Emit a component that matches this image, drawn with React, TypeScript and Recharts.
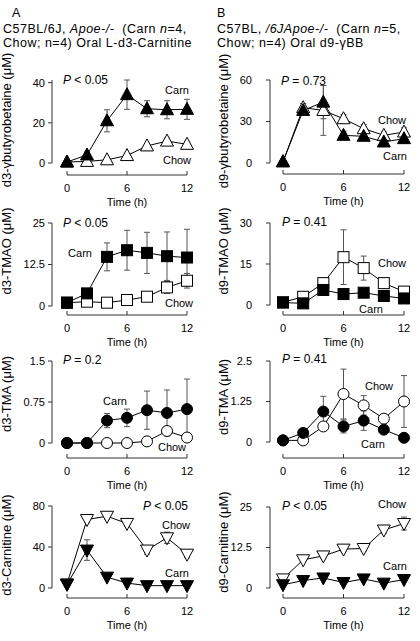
import React from 'react';
import { LineChart, Line, XAxis, YAxis, ErrorBar, Label } from 'recharts';

const FONT = '"Liberation Sans", Arial, Helvetica, sans-serif';

// ---------- data ----------
const times = [0, 2, 4, 6, 8, 10, 12];
const timeTicks = [0, 6, 12];

// Panel A: oral L-d3-carnitine
const a1CarnMean = [0.5, 4, 21, 34, 27, 26.5, 26.7];
const a1CarnErr = [0.3, 1.5, 5.5, 7.3, 4, 4.5, 5];
const a1ChowMean = [0.5, 0.8, 1.6, 3.7, 8.5, 10.9, 9.3];
const a1ChowErr = [0.2, 0.5, 0.5, 0.8, 1.2, 1.5, 1.5];
const a1Ticks = [0, 20, 40];

const a2CarnMean = [1.0, 3.8, 14.8, 16.8, 16, 15, 14.6];
const a2CarnErr = [0.3, 0.8, 4.2, 6, 6.2, 7.3, 8.5];
const a2ChowMean = [1.0, 1.3, 1.0, 1.8, 2.8, 5.6, 7.6];
const a2ChowErr = [0.2, 0.3, 0.3, 0.5, 0.8, 1.8, 2.2];
const a2Ticks = [0, 12.5, 25];

const a3CarnMean = [0, 0, 0.41, 0.46, 0.6, 0.55, 0.62];
const a3CarnErr = [0, 0, 0.13, 0.16, 0.35, 0.42, 0.55];
const a3ChowMean = [0, 0, 0, 0, 0.03, 0.22, 0.1];
const a3ChowErr = [0, 0, 0, 0, 0.02, 0.06, 0.04];
const a3Ticks = [0, 0.75, 1.5];

const a4CarnMean = [3.5, 37, 10.6, 4.8, 2.3, 2.3, 2.3];
const a4CarnErr = [1, 10, 2, 1, 0.5, 0.5, 0.5];
const a4ChowMean = [4, 66.8, 70, 63, 37, 49, 33];
const a4ChowErr = [1, 3, 3, 3, 4, 5.5, 3.5];
const a4Ticks = [0, 40, 80];

// Panel B: oral d9-gammaBB
const b1CarnMean = [1, 38, 44, 20, 19.3, 15.2, 17.6];
const b1CarnErr = [0.5, 3, 12, 3, 3, 2.5, 3];
const b1ChowMean = [0.8, 40, 38, 32, 24.8, 20, 22.4];
const b1ChowErr = [0.3, 3, 18, 3, 3, 2.5, 3];
const b1Ticks = [0, 30, 60];

const b2CarnMean = [0.9, 0.6, 5.5, 4, 4.5, 3.3, 2.4];
const b2CarnErr = [0.3, 0.3, 1, 0.8, 0.8, 0.8, 0.8];
const b2ChowMean = [1, 3, 8, 17.5, 13.5, 8, 4.9];
const b2ChowErr = [0.3, 0.8, 1, 10, 4.4, 1.8, 1];
const b2Ticks = [0, 15, 30];

const b3CarnMean = [0.05, 0.28, 0.94, 0.48, 0.66, 0.38, 0.13];
const b3CarnErr = [0.02, 0.05, 0.47, 0.2, 0.3, 0.1, 0.05];
const b3ChowMean = [0.05, 0.05, 0.48, 1.48, 1.13, 0.72, 1.25];
const b3ChowErr = [0.02, 0.05, 0.1, 0.77, 0.3, 0.08, 0.8];
const b3Ticks = [0, 1.25, 2.5];

const b4CarnMean = [1.0, 2.3, 3.1, 1.7, 2.8, 1.5, 2.6];
const b4CarnErr = [0.3, 0.3, 0.3, 0.3, 0.3, 0.3, 0.3];
const b4ChowMean = [2.8, 8.7, 9.9, 12, 12.2, 17.9, 19.9];
const b4ChowErr = [0.5, 0.8, 0.8, 0.8, 0.8, 1, 2];
const b4Ticks = [0, 12.5, 25];

// ---------- helpers ----------
type Shape = 'triUp' | 'triDown' | 'square' | 'circle';

const buildRows = (cm: number[], ce: number[], hm: number[], he: number[]) =>
  times.map((t, i) => ({ t, carn: cm[i], carnErr: ce[i], chow: hm[i], chowErr: he[i] }));

const makeDot = (shape: Shape, filled: boolean) => (props: any) => {
  const { cx, cy, index } = props;
  const key = `d-${index}`;
  if (cx == null || cy == null) return <g key={key} />;
  const fill = filled ? '#000' : '#fff';
  const common = { fill, stroke: '#000', strokeWidth: 1 };
  if (shape === 'circle') return <circle key={key} cx={cx} cy={cy} r={5.5} {...common} />;
  if (shape === 'square') return <rect key={key} x={cx - 5.5} y={cy - 5.5} width={11} height={11} {...common} />;
  if (shape === 'triUp')
    return <polygon key={key} points={`${cx},${cy - 7} ${cx + 6.5},${cy + 5} ${cx - 6.5},${cy + 5}`} {...common} />;
  return <polygon key={key} points={`${cx},${cy + 7} ${cx + 6.5},${cy - 5} ${cx - 6.5},${cy - 5}`} {...common} />;
};

interface PanelCfg {
  left: number;
  plotLeft: number;
  plotRight: number;
  yAxisX: number;
  tickRight: number;
  plotTop: number;
  plotBottom: number;
  axisY: number;
  domain: [number, number];
  ticks: number[];
  shape: Shape;
  rows: any[];
}

const colA = { left: 0, plotLeft: 67, plotRight: 187, yAxisX: 52, tickRight: 45 };
const colB = { left: 210, plotLeft: 283, plotRight: 404, yAxisX: 270, tickRight: 252 };

const panels: PanelCfg[] = [
  { ...colA, plotTop: 80, plotBottom: 163, axisY: 175, domain: [0, 40], ticks: a1Ticks, shape: 'triUp', rows: buildRows(a1CarnMean, a1CarnErr, a1ChowMean, a1ChowErr) },
  { ...colA, plotTop: 223, plotBottom: 306, axisY: 315, domain: [0, 25], ticks: a2Ticks, shape: 'square', rows: buildRows(a2CarnMean, a2CarnErr, a2ChowMean, a2ChowErr) },
  { ...colA, plotTop: 361, plotBottom: 443, axisY: 458, domain: [0, 1.5], ticks: a3Ticks, shape: 'circle', rows: buildRows(a3CarnMean, a3CarnErr, a3ChowMean, a3ChowErr) },
  { ...colA, plotTop: 506, plotBottom: 588, axisY: 598, domain: [0, 80], ticks: a4Ticks, shape: 'triDown', rows: buildRows(a4CarnMean, a4CarnErr, a4ChowMean, a4ChowErr) },
  { ...colB, plotTop: 80, plotBottom: 163, axisY: 174, domain: [0, 60], ticks: b1Ticks, shape: 'triUp', rows: buildRows(b1CarnMean, b1CarnErr, b1ChowMean, b1ChowErr) },
  { ...colB, plotTop: 223, plotBottom: 305, axisY: 315, domain: [0, 30], ticks: b2Ticks, shape: 'square', rows: buildRows(b2CarnMean, b2CarnErr, b2ChowMean, b2ChowErr) },
  { ...colB, plotTop: 361, plotBottom: 442, axisY: 458, domain: [0, 2.5], ticks: b3Ticks, shape: 'circle', rows: buildRows(b3CarnMean, b3CarnErr, b3ChowMean, b3ChowErr) },
  { ...colB, plotTop: 507, plotBottom: 588, axisY: 598, domain: [0, 25], ticks: b4Ticks, shape: 'triDown', rows: buildRows(b4CarnMean, b4CarnErr, b4ChowMean, b4ChowErr) },
];

// text annotations (layout)
const yLabels = [
  { text: 'd3-γbutyrobetaine (μM)', x: 6, y: 120 },
  { text: 'd3-TMAO (μM)', x: 6, y: 251 },
  { text: 'd3-TMA (μM)', x: 6, y: 394 },
  { text: 'd3-Carnitine (μM)', x: 6, y: 545 },
  { text: 'd9-γbutyrobetaine (μM)', x: 223, y: 121 },
  { text: 'd9-TMAO (μM)', x: 223, y: 251 },
  { text: 'd9-TMA (μM)', x: 223, y: 397 },
  { text: 'd9-Carnitine (μM)', x: 223, y: 542 },
];

const pValues = [
  { rest: ' < 0.05', x: 63, y: 84 },
  { rest: ' < 0.05', x: 63, y: 227 },
  { rest: ' = 0.2', x: 63, y: 364 },
  { rest: ' < 0.05', x: 143, y: 510 },
  { rest: ' = 0.73', x: 281, y: 85 },
  { rest: ' = 0.41', x: 282, y: 226 },
  { rest: ' = 0.41', x: 282, y: 363 },
  { rest: ' < 0.05', x: 282, y: 510 },
];

const seriesLabels = [
  { text: 'Carn', x: 177, y: 90 }, { text: 'Chow', x: 177, y: 160 },
  { text: 'Carn', x: 80, y: 253 }, { text: 'Chow', x: 179, y: 303 },
  { text: 'Carn', x: 115, y: 401 }, { text: 'Chow', x: 172, y: 447 },
  { text: 'Chow', x: 176, y: 525 }, { text: 'Carn', x: 177, y: 573 },
  { text: 'Chow', x: 392, y: 120 }, { text: 'Carn', x: 395, y: 156 },
  { text: 'Chow', x: 392, y: 263 }, { text: 'Carn', x: 371, y: 309 },
  { text: 'Chow', x: 379, y: 386 }, { text: 'Carn', x: 373, y: 444 },
  { text: 'Chow', x: 392, y: 504 }, { text: 'Carn', x: 395, y: 566 },
];

const TICK_FONT = { fontSize: 11, fill: '#000', fontFamily: FONT };
const TITLE_SIZE = 12.5;
const TITLE_STYLE: React.CSSProperties = { whiteSpace: 'pre', letterSpacing: 0.5 };

function Panel({ p }: { p: PanelCfg }) {
  const marginTop = 12;
  const xAxisH = 50;
  const chartTop = p.plotTop - marginTop;
  const plotH = p.plotBottom - p.plotTop;
  const height = marginTop + plotH + xAxisH;
  const yAxisW = p.plotLeft - p.left;
  const rightM = p.left + 210 - p.plotRight;
  const xShift = p.plotLeft - p.yAxisX;
  const yShift = p.axisY - p.plotBottom;
  return (
    <div style={{ position: 'absolute', left: p.left, top: chartTop, width: 210, height }}>
      <LineChart width={210} height={height} data={p.rows} margin={{ top: marginTop, right: rightM, bottom: 0, left: 0 }}>
        <XAxis
          dataKey="t"
          type="number"
          domain={[0, 12]}
          ticks={timeTicks}
          tickSize={4}
          tickMargin={yShift + 5}
          height={xAxisH}
          tick={TICK_FONT}
          axisLine={{ stroke: '#333', transform: `translate(0,${yShift})` }}
          tickLine={{ stroke: '#333', transform: `translate(0,${yShift - 4})` }}
        >
          <Label value="Time (h)" position="insideTop" offset={yShift + 23} style={{ fontSize: 11, fill: '#000', fontFamily: FONT }} />
        </XAxis>
        <YAxis
          type="number"
          domain={p.domain}
          ticks={p.ticks}
          width={yAxisW}
          tickSize={4}
          tickMargin={p.plotLeft - 4 - p.tickRight}
          tick={TICK_FONT}
          axisLine={{ stroke: '#333', transform: `translate(${-xShift},0)` }}
          tickLine={{ stroke: '#333', transform: `translate(${-xShift},0)` }}
        />
        <Line
          dataKey="chow"
          stroke="#000"
          strokeWidth={1}
          isAnimationActive={false}
          dot={makeDot(p.shape, false)}
          activeDot={false}
        >
          <ErrorBar dataKey="chowErr" width={3} stroke="#555" strokeWidth={1} />
        </Line>
        <Line
          dataKey="carn"
          stroke="#000"
          strokeWidth={1}
          isAnimationActive={false}
          dot={makeDot(p.shape, true)}
          activeDot={false}
        >
          <ErrorBar dataKey="carnErr" width={3} stroke="#555" strokeWidth={1} />
        </Line>
      </LineChart>
    </div>
  );
}

export default function App() {
  return (
    <div style={{ position: 'absolute', left: 0, top: 0, width: 420, height: 641, background: '#fff', overflow: 'hidden' }}>
      {panels.map((p, i) => (
        <Panel key={i} p={p} />
      ))}
      <svg width={420} height={641} style={{ position: 'absolute', left: 0, top: 0, pointerEvents: 'none' }} fontFamily={FONT} fill="#000">
        {/* titles */}
        <text x={12} y={17} fontSize={TITLE_SIZE} fill="#000">A</text>
        <text x={3} y={32.5} fontSize={TITLE_SIZE} fill="#000" style={TITLE_STYLE}>
          {'C57BL/6J, '}<tspan fontStyle="italic">Apoe-/-</tspan>{'  (Carn '}<tspan fontStyle="italic">n</tspan>{'=4,'}
        </text>
        <text x={3} y={47} fontSize={TITLE_SIZE} fill="#000" style={TITLE_STYLE}>Chow; n=4) Oral L-d3-Carnitine</text>
        <text x={217} y={17} fontSize={TITLE_SIZE} fill="#000">B</text>
        <text x={217} y={32.5} fontSize={TITLE_SIZE} fill="#000" style={TITLE_STYLE}>
          {'C57BL, '}<tspan fontStyle="italic">/6JApoe-/-</tspan>{'  (Carn '}<tspan fontStyle="italic">n</tspan>{'=5,'}
        </text>
        <text x={217} y={47} fontSize={TITLE_SIZE} fill="#000" style={TITLE_STYLE}>Chow; n=4) Oral d9-γBB</text>
        {/* y axis labels */}
        {yLabels.map((l, i) => (
          <text key={`yl${i}`} x={l.x} y={l.y} fontSize={13} fill="#000" textAnchor="middle" dominantBaseline="central" transform={`rotate(-90, ${l.x}, ${l.y})`}>
            {l.text}
          </text>
        ))}
        {/* p values */}
        {pValues.map((l, i) => (
          <text key={`pv${i}`} x={l.x} y={l.y} fontSize={12} fill="#000" style={{ whiteSpace: 'pre' }}>
            <tspan fontStyle="italic">P</tspan>{l.rest}
          </text>
        ))}
        {/* series labels */}
        {seriesLabels.map((l, i) => (
          <text key={`sl${i}`} x={l.x} y={l.y + 4} fontSize={11} fill="#000" textAnchor="middle">
            {l.text}
          </text>
        ))}
      </svg>
    </div>
  );
}
